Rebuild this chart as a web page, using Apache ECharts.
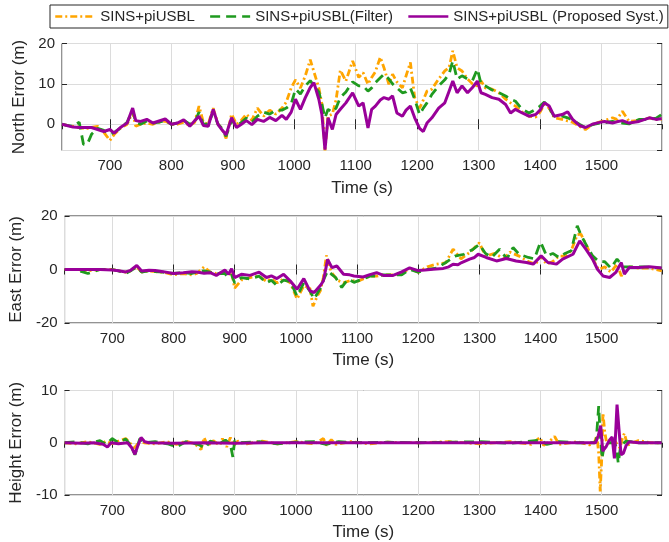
<!DOCTYPE html>
<html>
<head>
<meta charset="utf-8">
<script src="https://cdn.jsdelivr.net/npm/echarts@6/dist/echarts.min.js"></script>
<style>
  html, body { margin: 0; padding: 0; background: #fff; }
  #chart { width: 669px; height: 542px; }
</style>
</head>
<body>
<div id="chart"></div>
<script>
// series names (legend)
var seriesNames = ['SINS+piUSBL', 'SINS+piUSBL(Filter)', 'SINS+piUSBL (Proposed Syst.)'];
var timeRange = [622, 1598.5];

// North error [time, value]
var northBase = [[622,0],[630,-0.3],[640,-0.5],[650,-0.8],[657,-1],[663,-1],[670,-0.8],[680,-0.5],[690,-2],[700,-4],[707,-2.5],[717,-1],[728,0],[737,3],[742,-0.5],[750,0],[760,0.3],[770,0],[780,0.5],[790,0.8],[800,0],[810,0],[820,0.5],[830,-0.3],[838,0.5],[845,4.5],[852,0.5],[860,0],[868,4],[876,0],[882,-1],[889,-3.5],[898,2.5],[906,0],[914,1],[922,2.5],[931,1],[940,4],[950,2],[960,3.5],[970,2.5],[980,4],[987,5.5],[995,9],[1002,11],[1010,9],[1018,12],[1026,16],[1032,13],[1040,9],[1045,5],[1050,-6.5],[1055,2],[1062,2.5],[1068,6],[1075,13.4],[1084,10.7],[1095,15.7],[1105,11.6],[1112,12.8],[1120,9.9],[1126,11.6],[1132,13],[1140,16.6],[1146,14],[1154,9.9],[1160,12.4],[1167,10.5],[1176,9],[1182,12],[1189,15.3],[1196,6.6],[1204,4],[1210,6],[1216,8.2],[1224,8.7],[1235,11.2],[1245,13.2],[1252,14],[1258,18.2],[1265,14],[1273,13.2],[1282,11.2],[1290,10],[1298,9.5],[1304,10.7],[1311,9],[1322,8.7],[1333,7.8],[1344,6.2],[1352,5.3],[1360,4.5],[1371,3],[1382,2],[1393,1.8],[1400,3],[1407,4.9],[1415,4],[1423,1.6],[1436,1.2],[1445,0.8],[1453,0.5],[1464,-0.5],[1474,-1.3],[1485,-0.1],[1495,0.5],[1505,0.9],[1518,1.6],[1525,1.2],[1534,3.2],[1545,0.7],[1561,0.9],[1578,1.6],[1589,1.2],[1598,1.2]];
var northFilt = [[622,0],[630,-0.3],[640,-0.5],[650,0.5],[657,-5],[663,-5],[670,-2.5],[680,-1],[690,-1.5],[700,-2.5],[707,-2],[717,-1],[728,0.5],[737,3.5],[742,0.5],[750,0],[760,0.8],[770,0.3],[780,0.5],[790,1],[800,0],[810,0.3],[820,1],[830,0],[838,0.5],[845,3],[852,0],[860,0],[868,3],[876,0],[882,-1],[889,-3],[898,1],[906,-0.5],[914,0.5],[922,1.5],[931,0.5],[940,2],[950,3],[960,2.5],[970,3.5],[980,3.5],[987,4],[995,5],[1002,8.7],[1010,7.5],[1018,9.5],[1026,10.8],[1032,9.5],[1040,8],[1045,5],[1050,1.6],[1055,3.7],[1062,3],[1068,4],[1075,6.6],[1084,8],[1095,10.5],[1105,9.5],[1112,9.5],[1120,8.2],[1126,9],[1132,10.3],[1140,11.5],[1146,12.4],[1154,11.2],[1160,10],[1167,9],[1176,7.8],[1182,8],[1189,9],[1196,6.2],[1204,2.4],[1210,4],[1216,5.3],[1224,7.4],[1235,9.5],[1245,11],[1252,12.5],[1258,15.7],[1265,11.2],[1273,12],[1282,11.2],[1290,10.8],[1298,13.7],[1304,10],[1311,9.5],[1322,8.5],[1333,7.8],[1344,7],[1352,6.2],[1360,5.7],[1371,3.7],[1382,2.8],[1393,3.7],[1400,4.5],[1407,5.5],[1415,4],[1423,2],[1436,2],[1445,1.6],[1453,1],[1464,0],[1474,-0.9],[1485,-0.1],[1495,0.2],[1505,0.4],[1518,0.7],[1525,0.4],[1534,0.3],[1545,0.1],[1561,1.2],[1578,1.2],[1589,1.5],[1598,2.4]];
var northProp = [[622,0],[630,-0.3],[640,-0.7],[650,-0.8],[657,-0.8],[663,-0.8],[670,-0.8],[680,-1.3],[690,-1.8],[700,-1.3],[707,-2.2],[717,-0.8],[728,0.3],[737,4],[742,0.9],[750,0.7],[760,1.2],[770,0.3],[780,0.8],[790,1.3],[800,0],[810,0.3],[820,1.1],[830,-0.5],[838,0.9],[845,2],[852,-0.3],[860,-0.5],[868,3.7],[876,-0.1],[882,-1.3],[889,-2.6],[898,1.6],[906,-0.8],[914,0],[922,0.9],[931,-0.1],[940,1.2],[950,0.7],[960,1.7],[970,0.9],[980,2.2],[987,1.2],[995,3],[1002,6.2],[1010,3.7],[1018,6.6],[1026,9.1],[1032,10.3],[1040,6.2],[1045,2.4],[1050,-6.3],[1055,1.6],[1062,-1.3],[1068,2.4],[1075,3.7],[1084,5.3],[1095,7.8],[1105,4.5],[1112,5.3],[1120,-0.9],[1126,3.7],[1132,4.5],[1140,6],[1146,6.6],[1154,6.2],[1160,7],[1167,2.8],[1176,2],[1182,3.5],[1189,4.5],[1196,1.6],[1204,-1],[1210,-1.8],[1216,0.3],[1224,1.6],[1235,4],[1245,5.3],[1252,8.2],[1258,10.7],[1265,7.8],[1273,9.5],[1282,7.8],[1290,9.1],[1298,10.7],[1304,7.8],[1311,7.4],[1322,6.6],[1333,6.2],[1344,4.9],[1352,2.8],[1360,3.7],[1371,2.8],[1382,2],[1393,2.4],[1400,3.5],[1407,5.3],[1415,4.5],[1423,2],[1436,2.4],[1445,3.1],[1453,1.2],[1464,-0.3],[1474,-0.8],[1485,0],[1495,0.4],[1505,0.7],[1518,0.3],[1525,0.6],[1534,0.9],[1545,0.3],[1561,0.7],[1578,1.6],[1589,1.2],[1598,1.4]];

// East error [time, value]
var eastBase = [[622,0],[640,0],[660,-0.5],[680,0],[700,0],[710,-0.5],[722,-1],[730,-0.5],[740,1],[748,-1],[760,-0.5],[770,-0.8],[783,-1],[800,-2],[816,-1.5],[830,-2],[838,-1.5],[850,1],[860,-1],[870,-1.5],[884,-1],[890,-2],[895,-1],[900,-7],[911,-4],[925,-3],[940,-2.5],[952,-4.5],[960,-3.5],[969,-5],[980,-3.5],[991,-5],[1002,-11],[1013,-6],[1023,-7],[1028,-13.7],[1035,-10],[1040,-8],[1045,-3],[1050,5.3],[1058,-1],[1068,-4],[1078,-5],[1090,-4],[1100,-4.5],[1110,-3.5],[1121,-2.5],[1132,-2.5],[1143,-2],[1159,-2],[1173,-1.5],[1186,0.5],[1200,-1],[1215,1],[1230,2],[1245,2.5],[1257,7.6],[1270,4],[1285,6.5],[1300,10],[1310,5],[1325,6],[1340,4],[1350,6.5],[1365,5],[1380,3],[1392,2],[1400,5],[1410,2],[1420,3],[1430,5],[1440,5],[1450,7],[1460,13],[1466,13.2],[1475,9],[1485,4],[1495,0],[1505,1],[1515,-1],[1525,2],[1532,-2.4],[1545,1],[1560,0.5],[1578,0.5],[1598,-0.5]];
var eastFilt = [[622,0],[640,0],[660,-1.5],[680,0],[700,0],[710,-0.5],[722,-1.5],[730,-0.5],[740,1],[748,-1],[760,-0.5],[770,-0.8],[783,-1],[800,-1.5],[816,-1.2],[830,-1.5],[838,-1],[850,-0.5],[860,-1],[870,-1.5],[884,-1.5],[890,-3],[895,-2],[900,-5],[911,-3],[925,-3.5],[940,-2.5],[952,-5],[960,-4],[969,-6],[980,-4],[991,-4.5],[1002,-10],[1013,-5],[1023,-8],[1030,-11],[1040,-7],[1045,-4],[1052,-0.5],[1058,-1.7],[1065,-3],[1075,-6.7],[1085,-3.6],[1095,-4.8],[1110,-3.5],[1121,-2.5],[1132,-2.5],[1143,-2],[1159,-2],[1173,-2],[1186,0],[1200,-1],[1215,0],[1230,0.5],[1245,2.6],[1260,5],[1275,5.7],[1290,7.6],[1300,9.4],[1310,6],[1320,4.5],[1333,7.6],[1345,4],[1355,8.2],[1365,5.7],[1380,4.5],[1390,4],[1400,10.3],[1410,5],[1420,6],[1430,4.5],[1440,6],[1450,7],[1460,16.3],[1466,13],[1475,9],[1485,5.1],[1495,3],[1505,2.9],[1515,0.5],[1525,3.9],[1535,1],[1550,1],[1570,1],[1598,0.5]];
var eastProp = [[622,0],[640,0],[660,0],[680,0],[700,-0.2],[710,-0.5],[722,-0.9],[730,-0.3],[740,1.5],[748,-0.6],[760,-0.3],[770,-0.4],[783,-0.8],[800,-1.5],[816,-1.2],[830,-0.8],[838,-0.9],[850,-1.4],[860,-1.2],[870,-2.2],[884,-0.2],[890,-1.8],[895,0.3],[900,-3],[911,-1.8],[925,-2.2],[940,-1],[952,-3],[960,-2.4],[969,-3.4],[980,-1.8],[991,-4.3],[1002,-7.4],[1013,-3.4],[1023,-8],[1030,-8.6],[1040,-6],[1045,-4.3],[1052,3.8],[1059,0.7],[1067,1.3],[1078,-1.8],[1088,-2],[1095,-2.4],[1110,-2.8],[1121,-1.9],[1132,-1.2],[1143,-2.2],[1159,-2.2],[1173,-0.9],[1186,0.6],[1200,-0.4],[1211,-0.2],[1224,0.1],[1241,0.4],[1250,1],[1257,2],[1265,1.8],[1271,2.6],[1284,3.9],[1292,4.5],[1298,5.7],[1311,4.5],[1328,3.2],[1344,4.1],[1360,3.2],[1377,2.6],[1388,2],[1401,5.1],[1412,2.6],[1426,2],[1436,3.9],[1453,5.7],[1464,10.7],[1474,7.6],[1485,3.9],[1493,0.1],[1502,-2.4],[1513,-3],[1523,-1.1],[1532,2.6],[1537,-1.7],[1545,0.75],[1561,0.75],[1578,1],[1598,0.6]];

// Height error [time, value]
var heightBase = [[622,0],[640,-0.2],[660,0.2],[680,-0.3],[690,0.3],[700,-0.2],[712,0.4],[722,0.8],[730,-0.2],[737,-1],[745,0.5],[752,0],[770,-0.2],[790,0.2],[805,-0.3],[820,0.3],[835,-0.2],[845,-1.3],[850,1],[856,-0.6],[865,0.4],[875,-0.5],[880,0.8],[887,-0.8],[893,1],[898,-0.6],[905,0.3],[920,-0.2],[945,0.3],[970,-0.2],[1000,0.2],[1030,-0.2],[1045,0.8],[1050,-0.5],[1058,0.6],[1065,-0.3],[1090,0.2],[1120,-0.2],[1150,0.1],[1200,0],[1250,0.2],[1300,-0.2],[1350,0.2],[1385,-0.3],[1399,1],[1405,-0.5],[1415,0.3],[1423,1.2],[1430,-0.3],[1460,0.2],[1480,-0.4],[1488,0],[1492,1.4],[1495,-2],[1497.5,-9.3],[1500,-3],[1502,5.7],[1505,2],[1508,0],[1515,0],[1521,0.5],[1526,-0.5],[1530,-1],[1534,1],[1537,1.8],[1542,-0.5],[1550,0],[1560,0.4],[1580,0],[1598,0]];
var heightFilt = [[622,0],[640,0.2],[660,-0.2],[680,0.4],[690,-0.3],[700,0.8],[710,0],[722,0.7],[730,-0.5],[737,-2.3],[745,0.8],[752,0],[770,0.2],[790,-0.2],[805,-0.8],[820,0.2],[840,-0.3],[852,-1],[860,0.3],[875,-0.2],[885,0.5],[893,-0.3],[897,-2.7],[900,0.4],[910,0],[940,0.2],[970,-0.2],[1000,0.1],[1030,0.2],[1050,-0.3],[1070,0.2],[1100,0],[1150,0.1],[1200,0],[1250,0.1],[1300,0.2],[1350,-0.1],[1400,0.5],[1410,-0.3],[1430,0.2],[1460,0],[1488,0],[1491,0.5],[1493.5,4.5],[1495,7],[1497,2.6],[1500.5,-3],[1504,-0.5],[1512,0],[1521,0],[1524,-1],[1527,-3.9],[1531,-0.5],[1540,0.3],[1560,0],[1598,0]];
var heightProp = [[622,0],[650,-0.1],[670,0],[685,-0.3],[692,-0.8],[698,0],[710,-0.2],[725,0],[732,-1],[737,-2.2],[742,-0.5],[747,1],[753,0.2],[760,0],[800,-0.1],[850,0],[900,-0.1],[950,0],[1000,0],[1100,0],[1200,0],[1300,0],[1400,0],[1490,0],[1494.5,1.4],[1498.4,3.3],[1501.6,-1.6],[1507,-0.8],[1512.5,0.5],[1517,1.1],[1520.7,-3],[1525,7.3],[1529,1.4],[1531.6,-2.3],[1535.4,-2],[1540,-0.5],[1545,0.2],[1560,0],[1598,0]];

var panels = [
  { name: 'North Error (m)', min: -6.5, max: 20, split: 2, data: [northBase, northFilt, northProp] },
  { name: 'East Error (m)', min: -20, max: 20, split: 2, data: [eastBase, eastFilt, eastProp] },
  { name: 'Height Error (m)', min: -10, max: 10, split: 2, data: [heightBase, heightFilt, heightProp] }
];

var colors = ['#FFA500', '#1F9A1F', '#990099'];
var dashes = [[7, 3, 2, 3], [10, 6], 'solid'];
var widths = [2.8, 2.8, 3];
var font = 'Liberation Sans, Arial, Helvetica, sans-serif';
var ink = '#262626';

var chartDom = document.getElementById('chart');
var myChart = echarts.init(chartDom);

var grids = [], xAxes = [], yAxes = [], series = [];
var tops = [43.5, 216, 390.5];
var plainNum = function (v) { return String(v); };

panels.forEach(function (p, i) {
  grids.push({ left: 62, top: tops[i], width: 600, height: 107, show: true,
    borderColor: ink, borderWidth: 1, backgroundColor: '#fff' });
  // bottom axis with labels
  xAxes.push({
    type: 'value', gridIndex: i, min: timeRange[0], max: timeRange[1], splitNumber: 10,
    axisLine: { show: false },
    axisTick: { inside: true, length: 5, lineStyle: { color: ink } },
    axisLabel: { color: ink, fontSize: 15, fontFamily: font, margin: 8,
      showMinLabel: false, showMaxLabel: false, formatter: plainNum },
    splitLine: { show: true, lineStyle: { color: '#dcdcdc', width: 1 } },
    name: 'Time (s)', nameLocation: 'middle', nameGap: 29,
    nameTextStyle: { color: ink, fontSize: 17, fontFamily: font }
  });
  // top axis, ticks only
  xAxes.push({
    type: 'value', gridIndex: i, position: 'top', min: timeRange[0], max: timeRange[1], splitNumber: 10,
    axisLine: { show: false },
    axisTick: { inside: true, length: 5, lineStyle: { color: ink } },
    axisLabel: { show: false }, splitLine: { show: false }
  });
  yAxes.push({
    type: 'value', gridIndex: i, min: p.min, max: p.max, splitNumber: p.split,
    axisLine: { show: false },
    axisTick: { inside: true, length: 5, lineStyle: { color: ink } },
    axisLabel: { color: ink, fontSize: 15, fontFamily: font, margin: 7,
      showMinLabel: p.min === -6.5 ? false : true, formatter: plainNum },
    splitLine: { show: true, lineStyle: { color: '#dcdcdc', width: 1 } },
    name: p.name, nameLocation: 'middle', nameGap: 33,
    nameTextStyle: { color: ink, fontSize: 17, fontFamily: font }
  });
  yAxes.push({
    type: 'value', gridIndex: i, position: 'right', min: p.min, max: p.max, splitNumber: p.split,
    axisLine: { show: false },
    axisTick: { inside: true, length: 5, lineStyle: { color: ink } },
    axisLabel: { show: false }, splitLine: { show: false }
  });
  p.data.forEach(function (d, k) {
    series.push({
      name: seriesNames[k], type: 'line', xAxisIndex: i * 2, yAxisIndex: i * 2,
      data: d, showSymbol: false, symbol: 'none', clip: true,
      color: colors[k],
      lineStyle: { color: colors[k], width: widths[k], type: dashes[k] },
      z: 2 + k
    });
  });
});

var option = {
  animation: false,
  backgroundColor: '#fff',
  legend: {
    data: seriesNames,
    orient: 'horizontal',
    left: 50, top: 5, width: 660,
    padding: [4, 4, 4, 4],
    borderColor: ink, borderWidth: 1,
    itemWidth: 40, itemHeight: 12, itemGap: 14,
    textStyle: { color: ink, fontSize: 15, fontFamily: font },
    itemStyle: { opacity: 0 },
    lineStyle: { width: 2.5 }
  },
  grid: grids,
  xAxis: xAxes,
  yAxis: yAxes,
  series: series
};

myChart.setOption(option);
</script>
</body>
</html>
